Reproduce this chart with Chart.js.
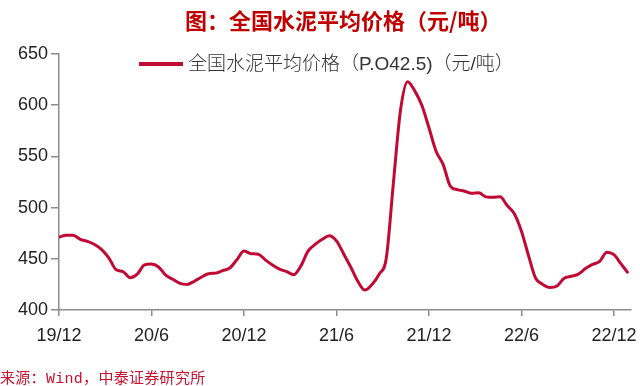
<!DOCTYPE html>
<html>
<head>
<meta charset="utf-8">
<script src="https://cdn.jsdelivr.net/npm/chart.js@4.4.1/dist/chart.umd.min.js"></script>
<style>
  body { margin: 0; background: #fff; }
  #wrap { position: relative; width: 640px; height: 386px; overflow: hidden; }
  #title {
    position: absolute; left: 185px; top: 3px; white-space: nowrap;
    font: bold 22px "Noto Sans CJK SC", sans-serif; color: #c00000;
  }
  #legend {
    position: absolute; left: 139px; top: 48px; white-space: nowrap;
    font: 19px "Noto Sans CJK SC", "Liberation Sans", sans-serif; color: #333;
  }
  #legend .swatch {
    display: inline-block; width: 44px; height: 4px; vertical-align: middle;
    margin-right: 5px; position: relative; top: -1px;
  }
  #legend .txt { font-family: "Liberation Sans", "Noto Sans CJK SC", sans-serif; font-weight: 300; }
  #source {
    position: absolute; left: 0; top: 366px; white-space: nowrap;
    font: 15px "Liberation Mono", "Noto Sans CJK SC", monospace; color: #c8102e;
    letter-spacing: 0.3px;
  }
</style>
</head>
<body>
<div id="wrap">
  <canvas id="chart" width="640" height="386"></canvas>
  <div id="title">图：全国水泥平均价格（元/吨）</div>
  <div id="legend"></div>
  <div id="source">来源：Wind，中泰证券研究所</div>
</div>
<script>
const canvas = document.getElementById("chart").getContext("2d");

// 双周采样，2019/12 起
const prices = [
  471, 473, 473, 469, 467, 464, 459, 451, 439.5, 437.5,
  431.5, 435, 444, 445, 442, 434, 430, 426, 425, 428,
  432, 435.5, 436, 438.5, 441, 449, 457.5, 455, 454.5, 449,
  444, 440, 437.5, 434.5, 443, 457.5, 464, 469, 472.5, 467.5,
  455, 442, 428, 419.5, 425, 435, 450.5, 524, 595, 623,
  614, 600, 578, 555, 542, 521, 517.5, 516, 514, 514.5,
  510.5, 510, 510.5, 502, 494, 477, 453, 431, 425, 422,
  423.5, 431, 433, 435, 440.5, 444.5, 447.5, 456.5, 454, 445,
  436
];
const tickLabels = ["19/12", "20/6", "20/12", "21/6", "21/12", "22/6", "22/12"];
const tickIdx = [0, 13, 26, 39, 52, 65, 78];
const seriesName = "全国水泥平均价格（P.O42.5)（元/吨）";

const lineColor = "#c00a35";
const axisColor = "#8c8c8c";

const data = {
  datasets: [
    {
      label: seriesName,
      data: prices.map((v, i) => ({ x: i, y: v })),
      borderColor: lineColor,
      backgroundColor: lineColor,
      borderWidth: 3,
      pointRadius: 0,
      cubicInterpolationMode: "monotone",
    },
  ],
};

const config = {
  type: "line",
  data: data,
  options: {
    responsive: false,
    animation: false,
    devicePixelRatio: 1,
    layout: { padding: { top: 54, right: 9, left: 0, bottom: 0 } },
    plugins: {
      legend: { display: false },
      tooltip: { enabled: false },
    },
    scales: {
      x: {
        type: "linear",
        min: 0,
        max: 80.4,
        afterBuildTicks: (s) => { s.ticks = tickIdx.map((v) => ({ value: v })); },
        afterFit: (s) => {
          s.height = 76;
          s.paddingLeft = 0;
          s.paddingRight = 0;
        },
        grid: { drawOnChartArea: false, tickLength: 6, color: axisColor, lineWidth: 1.5 },
        border: { color: axisColor, width: 1.5 },
        ticks: {
          autoSkip: false,
          maxRotation: 0,
          padding: 9,
          color: "#222",
          font: { family: "Liberation Sans", size: 18 },
          callback: (v) => tickLabels[tickIdx.indexOf(v)],
        },
      },
      y: {
        min: 400,
        max: 650,
        afterFit: (s) => { s.width = 59; },
        grid: { drawOnChartArea: false, tickLength: 8, color: axisColor, lineWidth: 1.5 },
        border: { color: axisColor, width: 1.5 },
        ticks: {
          stepSize: 50,
          padding: 3,
          color: "#222",
          font: { family: "Liberation Sans", size: 18 },
        },
      },
    },
  },
};

const chart = new Chart(canvas, config);

// 图例
const lg = document.getElementById("legend");
chart.data.datasets.forEach((ds) => {
  const sw = document.createElement("span");
  sw.className = "swatch";
  sw.style.background = ds.borderColor;
  const tx = document.createElement("span");
  tx.className = "txt";
  tx.textContent = ds.label;
  lg.appendChild(sw);
  lg.appendChild(tx);
});
</script>
</body>
</html>
